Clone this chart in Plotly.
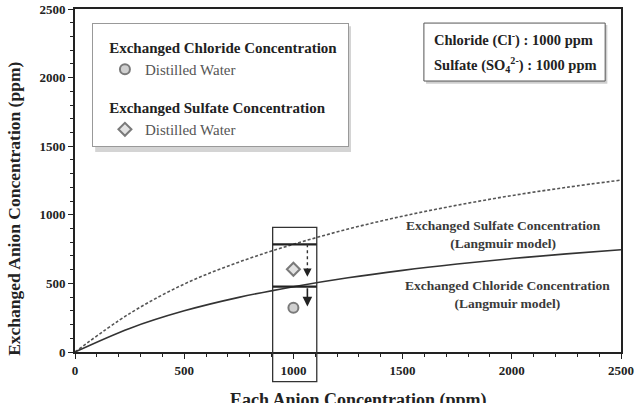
import plotly.graph_objects as go

# Langmuir model curves
conc = [0, 250, 500, 750, 1000, 1250, 1500, 1750, 2000, 2250, 2500]
chloride_model = [0, 172, 300, 398, 476, 541, 595, 641, 681, 715, 745]
sulfate_model = [0, 280, 495, 655, 785, 896, 990, 1070, 1140, 1200, 1253]

# Measured points (distilled water)
meas_x = [1000]
chloride_meas = [323]
sulfate_meas = [603]

# Reference levels at 1000 ppm
ref_x = [905, 1107]
chloride_ref = 476
sulfate_ref = 785
arrow_x = 1064

SERIF = "Liberation Serif, Tinos, Times New Roman, serif"
DARK = "#222222"
PAD = "\u00a0\u00a0\u00a0"

fig = go.Figure()

fig.add_trace(go.Scatter(x=conc, y=sulfate_model, mode="lines", line_shape="spline",
                         line=dict(color="#555555", width=1.6, dash="3px,2px"),
                         showlegend=False, hoverinfo="skip"))
fig.add_trace(go.Scatter(x=conc, y=chloride_model, mode="lines", line_shape="spline",
                         line=dict(color="#333333", width=1.6),
                         showlegend=False, hoverinfo="skip"))

fig.add_trace(go.Scatter(x=meas_x, y=chloride_meas, mode="markers", name="Distilled Water",
                         legendgroup="cl",
                         legendgrouptitle=dict(text=PAD + "<b>Exchanged Chloride Concentration</b>",
                                               font=dict(family=SERIF, size=15, color=DARK)),
                         marker=dict(symbol="circle", size=10, color="#d0d0d0",
                                     line=dict(color="#7a7a7a", width=2))))
fig.add_trace(go.Scatter(x=meas_x, y=sulfate_meas, mode="markers", name="Distilled Water",
                         legendgroup="so",
                         legendgrouptitle=dict(text=PAD + "<b>Exchanged Sulfate Concentration</b>",
                                               font=dict(family=SERIF, size=15, color=DARK)),
                         marker=dict(symbol="diamond", size=10, color="#e2e2e2",
                                     line=dict(color="#7a7a7a", width=2))))

shapes = [
    # legend shadow
    dict(type="rect", xref="paper", yref="paper", x0=0.037, x1=0.5055, y0=0.583, y1=0.950,
         line=dict(width=0), fillcolor="#d4d4d4"),
    # box around 1000 ppm, extending below the axis
    dict(type="rect", xref="paper", yref="paper", x0=ref_x[0] / 2500, x1=ref_x[1] / 2500,
         y0=-0.0866, y1=0.3636, line=dict(color="#333333", width=1.3)),
    dict(type="line", xref="x", yref="y", x0=ref_x[0], x1=ref_x[1], y0=sulfate_ref, y1=sulfate_ref,
         line=dict(color="#222222", width=2.2)),
    dict(type="line", xref="x", yref="y", x0=ref_x[0], x1=ref_x[1], y0=chloride_ref, y1=chloride_ref,
         line=dict(color="#222222", width=2.2)),
    dict(type="line", xref="x", yref="y", x0=arrow_x, x1=arrow_x, y0=sulfate_ref, y1=590,
         line=dict(color="#333333", width=1.4, dash="dot")),
    # info box with soft shadow
    dict(type="rect", xref="paper", yref="paper", x0=0.643, x1=0.975, y0=0.782, y1=0.953,
         line=dict(width=0), fillcolor="#cfcfcf"),
    dict(type="rect", xref="paper", yref="paper", x0=0.639, x1=0.971, y0=0.790, y1=0.959,
         line=dict(color="#555555", width=1), fillcolor="white"),
]

annotations = [
    dict(x=arrow_x, y=548, ax=arrow_x, ay=600, xref="x", yref="y", axref="x", ayref="y",
         showarrow=True, arrowhead=2, arrowsize=1.2, arrowwidth=1.4, arrowcolor="#222222", text=""),
    dict(x=arrow_x, y=332, ax=arrow_x, ay=chloride_ref, xref="x", yref="y", axref="x", ayref="y",
         showarrow=True, arrowhead=2, arrowsize=1.2, arrowwidth=1.6, arrowcolor="#222222", text=""),
    dict(x=0.654, y=0.9125, xref="paper", yref="paper", xanchor="left", yanchor="middle",
         showarrow=False,
         text="<b>Chloride (Cl<sup>-</sup>) : 1000 ppm</b>",
         font=dict(family=SERIF, size=14.5, color=DARK)),
    dict(x=0.654, y=0.8367, xref="paper", yref="paper", xanchor="left", yanchor="middle",
         showarrow=False,
         text="<b>Sulfate (SO<sub>4</sub><sup>2-</sup>) : 1000 ppm</b>",
         font=dict(family=SERIF, size=14.5, color=DARK)),
    dict(x=0.784, y=0.3426, xref="paper", yref="paper", xanchor="center", yanchor="middle",
         showarrow=False,
         text="<b>Exchanged Sulfate Concentration<br>(Langmuir model)</b>",
         font=dict(family=SERIF, size=13.5, color="#3a3a3a")),
    dict(x=0.793, y=0.1676, xref="paper", yref="paper", xanchor="center", yanchor="middle",
         showarrow=False,
         text="<b>Exchanged Chloride Concentration<br>(Langmuir model)</b>",
         font=dict(family=SERIF, size=13.5, color="#3a3a3a")),
    dict(x=0.52, y=-0.105, xref="paper", yref="paper", showarrow=False,
         xanchor="center", yanchor="top",
         text="<b>Each Anion Concentration (ppm)</b>",
         font=dict(family=SERIF, size=18, color=DARK)),
    dict(x=-0.112, y=0.417, xref="paper", yref="paper", showarrow=False, textangle=-90,
         xanchor="center", yanchor="middle",
         text="<b>Exchanged Anion Concentration (ppm)</b>",
         font=dict(family=SERIF, size=17.5, color=DARK)),
]

axis_common = dict(showline=True, linecolor="#222222", linewidth=2, mirror=True,
                   showgrid=False, zeroline=False, ticks="outside", ticklen=5, tickwidth=1.3,
                   tickcolor="#222222", automargin=False,
                   tickfont=dict(family=SERIF, size=13, color=DARK, weight="bold"),
                   minor=dict(ticks="outside", dtick=100, ticklen=3, tickwidth=1.2, tickcolor="#222222"))

fig.update_layout(
    width=638, height=403,
    margin=dict(l=75, r=17, t=9, b=51, autoexpand=False),
    plot_bgcolor="white", paper_bgcolor="white",
    xaxis=dict(range=[0, 2500], dtick=500, **axis_common),
    yaxis=dict(range=[0, 2500], dtick=500, **axis_common),
    shapes=shapes, annotations=annotations,
    legend=dict(x=0.031, y=0.959, xanchor="left", yanchor="top",
                bgcolor="white", bordercolor="#999999", borderwidth=1,
                font=dict(family=SERIF, size=15, color="#555555"),
                title=dict(text="\u00a0", font=dict(size=5)),
                tracegroupgap=15, itemclick=False, indentation=12),
    showlegend=True,
)

fig.write_html("out.html")
